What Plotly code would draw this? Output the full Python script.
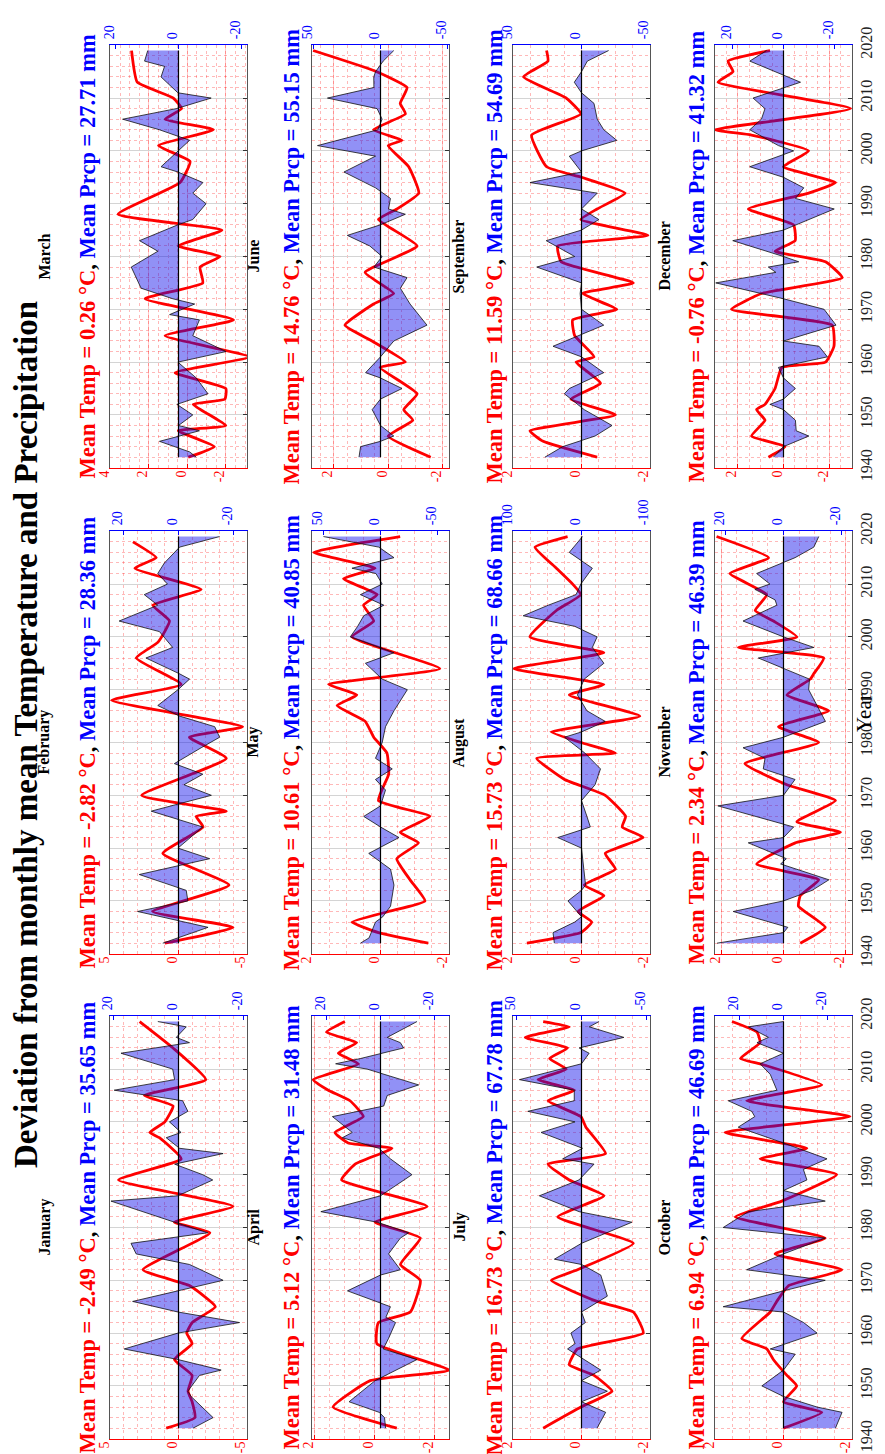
import math
import plotly.graph_objects as go

W, H = 885, 1454
FONT = "Liberation Serif"

months = ["January", "February", "March", "April", "May", "June",
          "July", "August", "September", "October", "November", "December"]
mean_temp = [-2.49, -2.82, 0.26, 5.12, 10.61, 14.76, 16.73, 15.73, 11.59, 6.94, 2.34, -0.76]
mean_prcp = [35.65, 28.36, 27.71, 31.48, 40.85, 55.15, 67.78, 68.66, 54.69, 46.69, 46.39, 41.32]

# ---------------- temperature deviation (deg C) ----------------
jan_t_years = [1942,1944,1947,1949,1952,1955,1958,1960,1962,1965,1969,1972,1979,1981,1984,1989,1993,1997,1998,2000,2003,2005,2008,2014,2019]
jan_t = [0.9,-1.2,-1.0,-0.7,-1.0,0.3,-1.0,-0.6,-1.0,-2.7,-0.8,2.6,-2.3,0.3,-4.0,4.4,-0.2,1.4,2.1,1.0,0.4,2.5,-2.0,0.4,2.85]
feb_t_years = [1942,1945,1948,1953,1959,1964,1966,1967,1970,1977,1981,1983,1988,1991,1996,1999,2003,2006,2009,2013,2015,2018]
feb_t = [1.0,-4.0,1.9,-3.7,1.15,-1.8,-1.3,-3.5,2.7,-3.5,-0.8,-4.7,4.9,-0.2,3.1,1.5,0.66,1.88,-1.66,3.2,1.63,3.34]
mar_t_years = [1942,1944,1947,1948,1952,1953,1955,1958,1961,1965,1968,1972,1975,1978,1980,1982,1985,1988,1994,1998,2001,2004,2006,2008,2010,2013,2019]
mar_t = [-0.05,-1.4,0.47,-2.0,-0.3,-1.95,-2.0,0.64,-3.2,1.16,-2.4,2.2,-0.8,-0.66,-1.7,0.47,-1.8,3.6,0.38,-0.14,1.5,-1.35,1.16,0.3,0.73,2.6,2.9]
apr_t_years = [1942,1946,1951,1953,1958,1962,1964,1970,1973,1978,1981,1984,1989,1992,1995,1996,1998,2001,2004,2006,2008,2011,2013,2015,2017,2019]
apr_t = [-0.74,1.37,0.14,-2.47,-0.08,-0.13,-1.19,-1.52,-0.86,-1.52,-0.02,-1.74,1.09,0.64,-0.58,0.87,1.31,0.37,0.81,1.53,2.03,0.53,1.2,0.59,1.59,0.98]
may_t_years = [1942,1944,1946,1948,1950,1954,1958,1961,1963,1966,1969,1974,1978,1981,1984,1987,1989,1991,1994,2000,2003,2006,2008,2011,2013,2016,2019]
may_t = [-1.41,0.06,0.84,-0.24,-1.31,-0.87,-0.48,-1.12,-0.58,-1.46,0.06,-0.24,-0.19,0.2,0.45,1.28,0.7,1.53,-1.75,0.84,0.2,0.5,0.1,1.09,0.16,1.97,-0.58]
jun_t_years = [1942,1946,1949,1951,1954,1959,1960,1964,1967,1971,1973,1977,1982,1987,1989,1992,1997,2001,2002,2004,2007,2009,2012,2015,2019]
jun_t = [-1.56,0.0,-0.9,-0.57,-1.06,0.3,-0.63,0.6,1.59,0.54,-0.2,0.85,-1.06,0.36,-0.32,-1.12,-0.75,0.0,-0.51,0.54,-0.63,-0.44,-0.69,0.42,2.76]
jul_t_years = [1942,1946,1949,1952,1954,1957,1960,1964,1966,1970,1972,1977,1982,1986,1989,1992,1994,1999,2001,2004,2006,2008,2010,2012,2014,2016,2018,2019]
jul_t = [1.13,0.02,-0.9,-0.37,0.36,0.12,-1.82,-1.53,-0.46,0.89,0.12,-1.53,0.7,-0.66,0.36,0.99,-0.71,-0.13,0.02,0.99,0.21,1.28,0.45,0.94,0.41,1.66,0.36,1.13]
aug_t_years = [1942,1944,1946,1948,1951,1953,1956,1959,1962,1964,1966,1970,1973,1977,1978,1980,1982,1985,1989,1991,1994,1997,2000,2005,2008,2010,2013,2017,2019]
aug_t = [1.61,0.02,-0.3,0.1,-0.66,-0.08,-1.0,-0.7,-1.82,-1.2,-1.3,-0.7,0.5,1.32,-1.0,0.02,0.89,-1.72,0.36,-0.66,2.0,-0.66,1.52,0.74,0.02,0.26,0.74,1.37,0.41]
sep_t_years = [1942,1945,1947,1950,1953,1956,1960,1961,1965,1968,1970,1973,1975,1979,1982,1984,1987,1989,1992,1995,1997,2003,2007,2010,2014,2017,2019]
sep_t = [-0.46,1.13,1.52,-1.0,0.31,-0.56,0.16,-0.37,0.2,0.26,-1.04,-0.03,-1.53,0.6,0.7,-1.96,0.02,-0.46,-1.29,0.0,1.03,1.47,0.02,0.45,1.71,0.99,1.03]
oct_t_years = [1942,1945,1947,1950,1952,1955,1957,1959,1964,1966,1969,1972,1975,1978,1982,1985,1990,1993,1995,1998,2001,2004,2007,2011,2012,2015,2017,2019]
oct_t = [0.0,-1.13,0.0,-0.39,-0.1,0.3,0.49,1.23,0.39,0.2,-0.15,-1.72,0.25,-1.23,1.42,0.05,-1.57,0.69,-0.69,1.72,-1.96,1.08,-1.13,0.69,1.27,0.69,0.78,1.52]
nov_t_years = [1942,1945,1949,1951,1954,1957,1961,1963,1965,1969,1972,1976,1980,1983,1986,1989,1992,1993,1996,1998,2000,2003,2005,2008,2012,2015,2019]
nov_t = [-0.54,-1.34,-0.48,-0.54,-1.13,0.86,-0.38,-1.83,-0.43,-1.67,-0.11,1.24,-1.13,0.16,-1.45,-0.11,-0.86,-0.97,-1.29,1.45,-0.43,0.32,0.91,0.54,1.72,0.48,2.15]
dec_t_years = [1942,1944,1946,1949,1951,1952,1955,1959,1960,1963,1967,1970,1973,1976,1979,1981,1983,1986,1989,1992,1994,1997,2000,2003,2004,2008,2013,2015,2017,2019]
dec_t = [0.66,-0.07,1.4,0.81,1.18,0.81,0.37,0.07,-1.84,-2.21,-2.13,2.28,0.96,-2.57,-1.84,0.37,-0.51,-0.44,1.54,-1.1,-2.28,0.0,-1.1,1.4,3.01,-2.94,2.87,2.21,2.43,0.59]

# ---------------- precipitation deviation (mm) ----------------
jan_p_years = [1942,1944,1948,1949,1952,1953,1955,1957,1960,1962,1964,1966,1968,1970,1973,1975,1977,1979,1981,1985,1986,1989,1990,1992,1994,1995,1997,1998,2000,2002,2004,2006,2008,2010,2013,2015,2016,2018,2019]
jan_p = [-4.5,-10.7,-3.9,-2.9,-6.5,-13.2,0.2,16.8,0.2,-18.9,0.2,14.2,0.2,-13.8,-3.4,13.1,14.7,-9.1,1.2,20.9,0.2,-10.6,-7.5,1.2,-13.8,-0.3,3.8,-0.8,2.8,-2.9,-1.3,19.9,1.2,1.8,17.8,-3.4,0.7,-2.4,6.4]
feb_p_years = [1942,1945,1948,1950,1952,1955,1958,1960,1964,1967,1970,1972,1974,1976,1979,1981,1983,1985,1987,1990,1992,1993,1996,1998,2001,2003,2006,2008,2010,2012,2014,2017,2019]
feb_p = [5.7,-10.7,14.8,-3.4,-2.8,14.2,-11.3,0.2,-8.8,9.9,-11.9,-2.0,-8.8,1.5,-8.2,-14.9,-13.1,-0.4,7.5,0.2,-4.0,-0.4,11.8,2.1,6.9,21.5,7.5,12.4,4.0,7.5,5.1,-0.4,-14.9]
mar_p_years = [1942,1943,1945,1947,1948,1950,1952,1954,1957,1960,1962,1965,1968,1969,1971,1972,1974,1978,1981,1983,1986,1987,1990,1992,1994,1996,1997,2000,2002,2004,2006,2008,2010,2011,2014,2016,2017,2019]
mar_p = [-5.6,-3.5,6.0,-6.6,0.0,-4.5,0.5,-9.3,-5.6,0.2,-15.0,-4.5,-6.6,2.8,-5.1,1.8,11.8,14.9,6.5,12.3,0.2,-4.5,-8.7,-4.5,-7.7,0.2,5.5,0.2,-3.5,6.0,17.6,0.7,-10.3,0.2,5.5,4.4,10.7,9.7]
apr_p_years = [1942,1944,1945,1947,1951,1955,1957,1959,1962,1963,1965,1968,1971,1972,1975,1978,1979,1981,1983,1986,1990,1993,1995,1997,1998,2001,2003,2005,2007,2010,2011,2012,2014,2015,2016,2019]
apr_p = [-1.9,-1.5,0.5,11.7,2.0,-13.6,-1.0,-3.0,-5.6,-2.0,-3.7,12.3,0.0,-7.4,-3.0,-7.4,-10.5,1.2,22.2,0.0,-11.7,-3.7,0.6,14.2,10.5,17.9,-1.2,-2.5,-14.2,5.0,16.7,7.4,-8.6,-7.4,-2.5,-13.6]
may_p_years = [1942,1943,1946,1947,1949,1953,1956,1959,1962,1964,1966,1968,1971,1973,1975,1977,1980,1983,1986,1990,1992,1995,1997,2000,2002,2004,2006,2008,2010,2012,2013,2015,2017,2019]
may_p = [17.6,10.0,4.4,-2.0,-8.8,-11.8,-8.8,10.3,-16.2,0.0,14.7,0.0,-4.4,4.4,-10.3,4.4,-1.5,-4.4,-11.8,-23.5,-1.5,13.2,-11.8,26.5,20.0,14.7,-2.9,17.6,-1.5,4.0,25.0,-11.8,1.5,50.0]
jun_p_years = [1942,1944,1945,1946,1948,1951,1953,1955,1957,1958,1961,1964,1967,1971,1974,1976,1978,1980,1982,1984,1986,1988,1989,1991,1993,1996,1999,2001,2004,2006,2008,2010,2012,2014,2015,2017,2019]
jun_p = [16.0,14.8,0.0,-9.9,0.0,6.2,0.0,-16.0,0.0,11.1,0.0,-9.9,-34.6,-22.0,-14.8,-19.8,4.9,-1.2,8.0,24.7,0.0,-18.5,-6.0,-7.4,3.7,27.2,3.7,46.9,2.0,-1.2,2.5,39.5,4.9,5.0,3.7,-2.0,-9.9]
jul_p_years = [1942,1945,1947,1949,1951,1953,1957,1958,1960,1962,1964,1967,1971,1973,1974,1977,1981,1983,1986,1989,1992,1993,1995,1998,2000,2002,2004,2006,2008,2011,2013,2014,2016,2018,2019]
jul_p = [-12.0,-18.7,0.0,-20.0,0.0,-14.9,10.8,5.0,8.2,-3.0,0.0,-20.0,-14.9,0.0,21.0,0.0,-39.0,1.8,32.6,2.0,-9.7,14.6,-0.8,31.3,5.0,41.5,5.6,5.6,48.0,0.0,-5.9,1.8,-32.8,-6.0,-13.6]
aug_p_years = [1942,1944,1946,1947,1950,1952,1953,1956,1960,1962,1964,1966,1969,1972,1975,1978,1981,1982,1984,1986,1989,1992,1995,1998,2000,2002,2004,2006,2008,2010,2013,2016,2019]
aug_p = [40.0,42.0,10.0,0.0,20.0,0.0,-6.0,-3.0,0.0,35.0,-13.0,-8.0,0.0,-20.0,-28.0,-5.0,25.0,0.0,-35.0,-8.0,6.0,-4.0,-33.0,-16.0,-23.0,10.0,86.0,49.0,8.0,1.0,-16.0,18.0,-1.5]
sep_p_years = [1942,1944,1946,1948,1951,1954,1955,1958,1961,1963,1967,1970,1973,1975,1978,1980,1983,1985,1987,1989,1992,1994,1996,1999,2000,2002,2004,2006,2009,2011,2013,2015,2017,2019]
sep_p = [27.0,13.8,-10.0,-22.5,-2.0,12.6,9.0,-16.4,0.0,21.0,-16.4,0.0,1.0,0.0,33.0,5.0,26.0,0.0,-12.8,0.0,-11.6,38.0,0.0,9.0,0.0,-26.0,-16.4,-11.6,-9.2,0.0,5.3,0.0,-4.3,-20.0]
oct_p_years = [1942,1945,1946,1948,1950,1953,1956,1957,1960,1962,1964,1965,1968,1970,1972,1975,1978,1980,1983,1985,1987,1989,1991,1993,1996,1999,2001,2002,2004,2006,2009,2011,2013,2015,2016,2018,2019]
oct_p = [-23.5,-26.5,-15.2,0.0,9.8,0.0,-5.3,6.0,-15.2,-9.1,0.0,27.3,0.0,-18.9,16.7,0.0,-18.9,27.3,15.9,-18.9,0.0,-10.6,-9.0,-19.7,0.0,20.5,13.0,14.4,25.0,3.0,6.0,10.6,0.0,12.0,6.8,15.9,0.0]
nov_p_years = [1942,1944,1945,1948,1950,1952,1954,1957,1958,1961,1962,1964,1968,1970,1973,1975,1977,1979,1981,1984,1987,1990,1992,1994,1996,1998,2000,2003,2006,2007,2009,2010,2012,2015,2017,2019]
nov_p = [23.0,0.0,-1.5,17.4,0.0,-9.9,-15.7,1.0,-1.0,12.2,0.0,-3.5,22.7,0.0,-4.0,7.0,6.4,14.0,0.0,-14.5,-11.6,-8.7,-9.0,0.0,8.7,-10.5,0.0,14.0,2.3,2.9,9.9,4.7,9.3,-4.0,-10.5,-12.2]
dec_p_years = [1942,1944,1946,1947,1949,1951,1952,1953,1955,1957,1959,1961,1963,1964,1967,1970,1972,1975,1977,1978,1979,1980,1983,1985,1989,1991,1993,1995,1997,2000,2001,2004,2006,2008,2010,2013,2017,2019]
dec_p = [4.0,0.0,-10.0,-5.0,-4.7,0.0,5.3,0.0,-4.7,0.0,2.0,-17.3,-14.0,0.0,-20.7,-16.0,0.0,26.7,3.0,6.0,-6.0,0.0,20.0,0.0,-20.0,-4.7,-8.0,0.0,13.3,-4.0,2.0,13.3,8.7,7.3,12.0,-6.7,13.3,6.7]

temp_years = [jan_t_years, feb_t_years, mar_t_years, apr_t_years, may_t_years, jun_t_years,
              jul_t_years, aug_t_years, sep_t_years, oct_t_years, nov_t_years, dec_t_years]
temp_vals = [jan_t, feb_t, mar_t, apr_t, may_t, jun_t, jul_t, aug_t, sep_t, oct_t, nov_t, dec_t]
prcp_years = [jan_p_years, feb_p_years, mar_p_years, apr_p_years, may_p_years, jun_p_years,
              jul_p_years, aug_p_years, sep_p_years, oct_p_years, nov_p_years, dec_p_years]
prcp_vals = [jan_p, feb_p, mar_p, apr_p, may_p, jun_p, jul_p, aug_p, sep_p, oct_p, nov_p, dec_p]

# ---------------- axis styling per panel ----------------
temp_range = [(5.02, -5.02), (5.02, -5.02), (4.02, -3.1), (2.07, -2.47), (2.02, -2.02), (2.8, -2.23),
              (2.02, -2.02), (2.02, -2.02), (2.02, -2.02), (2.02, -2.02), (2.2, -2.2), (3.0, -3.0)]
temp_dtick = [5, 5, 2, 2, 2, 2, 2, 2, 2, 2, 2, 2]
temp_minor = [1, 1, 0.5, 0.5, 0.5, 0.5, 0.5, 0.5, 0.5, 0.5, 0.5, 0.5]
prcp_lim = [21.2, 24.8, 21.6, 25.5, 60, 51, 53, 101, 50.5, 31, 23.7, 27]
prcp_dtick = [20, 20, 20, 20, 50, 50, 50, 100, 50, 20, 20, 20]

row_left = [102, 304, 505, 707]
col_top = [1008, 523, 37]
PW, PH = 137, 423
mean_x = [79, 283, 486, 688]
title_x = [36, 245, 451, 656]

RED = "#ff0000"
BLUE = "#0000ff"


def tick_list(a, b, step):
    lo, hi = min(a, b), max(a, b)
    k0, k1 = math.ceil(lo / step - 1e-9), math.floor(hi / step + 1e-9)
    vals = [k * step for k in range(k0, k1 + 1)]
    return vals, [f"{v:g}" for v in vals]


fig = go.Figure()
layout_axes = {}
annotations = []

for i in range(12):
    r, c = divmod(i, 3)
    left, top = row_left[r], col_top[c]
    dom_x = [left / W, (left + PW) / W]
    dom_y = [1 - (top + PH) / H, 1 - top / H]
    nt, npr, ny = 2 * i + 1, 2 * i + 2, i + 1
    xt_ref = "x" if nt == 1 else f"x{nt}"
    xp_ref = f"x{npr}"
    y_ref = "y" if ny == 1 else f"y{ny}"
    xt_key = "xaxis" if nt == 1 else f"xaxis{nt}"
    xp_key = f"xaxis{npr}"
    y_key = "yaxis" if ny == 1 else f"yaxis{ny}"

    fig.add_trace(go.Scatter(x=temp_vals[i], y=temp_years[i], xaxis=xt_ref, yaxis=y_ref,
                             mode="lines", line=dict(color=RED, width=2.8, shape="spline", smoothing=0.4),
                             showlegend=False, hoverinfo="skip"))
    fig.add_trace(go.Scatter(x=prcp_vals[i], y=prcp_years[i], xaxis=xp_ref, yaxis=y_ref,
                             mode="lines", fill="tozerox", fillcolor="rgba(10,10,235,0.45)",
                             line=dict(color="#111111", width=0.8),
                             showlegend=False, hoverinfo="skip"))
    fig.add_trace(go.Scatter(x=[0, 0], y=[prcp_years[i][0], prcp_years[i][-1]],
                             xaxis=xp_ref, yaxis=y_ref, mode="lines",
                             line=dict(color="black", width=1.2),
                             showlegend=False, hoverinfo="skip"))

    tv, tt = tick_list(temp_range[i][0], temp_range[i][1], temp_dtick[i])
    pv, pt = tick_list(-prcp_lim[i], prcp_lim[i], prcp_dtick[i])

    layout_axes[xt_key] = dict(
        domain=dom_x, anchor=y_ref, range=list(temp_range[i]), side="bottom",
        automargin=False,
        showline=True, linecolor=RED, linewidth=1, mirror=False,
        ticks="inside", ticklen=4, tickcolor=RED,
        tickmode="array", tickvals=tv, ticktext=tt,
        tickangle=-90, ticklabelshift=6, ticklabelstandoff=-4,
        tickfont=dict(family=FONT, size=14, color=RED),
        showgrid=True, gridcolor="rgba(255,0,0,0.22)", gridwidth=1, zeroline=False,
        minor=dict(tickmode="linear", tick0=0, dtick=temp_minor[i], showgrid=True,
                   gridcolor="rgba(255,0,0,0.28)", griddash="dot", gridwidth=1),
        fixedrange=True)
    layout_axes[xp_key] = dict(
        overlaying=xt_ref, anchor=y_ref, side="top", automargin=False,
        range=[prcp_lim[i], -prcp_lim[i]], showline=True, linecolor=BLUE, linewidth=1,
        ticks="inside", ticklen=4, tickcolor=BLUE,
        tickmode="array", tickvals=pv, ticktext=pt,
        tickangle=-90, ticklabelshift=6, ticklabelstandoff=2,
        tickfont=dict(family=FONT, size=14, color=BLUE),
        showgrid=False, zeroline=False, fixedrange=True)
    layout_axes[y_key] = dict(
        domain=dom_y, anchor=xt_ref, side="right", range=[1939.95, 2020.05],
        automargin=False,
        tick0=1940, dtick=10, showticklabels=(r == 3),
        ticks="inside", ticklen=4, tickcolor="#333333",
        tickangle=-90, tickfont=dict(family=FONT, size=16, color="#222222"),
        showline=True, linecolor="#555555", linewidth=1, mirror=True,
        showgrid=True, gridcolor="#d4d4d4", gridwidth=1, zeroline=False,
        minor=dict(tick0=1940, dtick=2, showgrid=True,
                   gridcolor="rgba(255,0,0,0.28)", griddash="dot", gridwidth=1),
        fixedrange=True)

    cy = 1 - (top + PH / 2) / H
    annotations.append(dict(
        x=title_x[r] / W, y=cy, xref="paper", yref="paper", showarrow=False,
        textangle=-90, xanchor="center", yanchor="middle",
        text=f"<b>{months[i]}</b>", font=dict(family=FONT, size=16, color="black")))
    annotations.append(dict(
        x=mean_x[r] / W, y=cy, xref="paper", yref="paper", showarrow=False,
        textangle=-90, xanchor="center", yanchor="middle",
        text=(f"<b><span style='color:{RED}'>Mean Temp = {mean_temp[i]:.2f} °C</span>, "
              f"<span style='color:{BLUE}'>Mean Prcp = {mean_prcp[i]:.2f} mm</span></b>"),
        font=dict(family=FONT, size=22.5, color="black")))

annotations.append(dict(
    x=18 / W, y=0.5, xref="paper", yref="paper", showarrow=False, textangle=-90,
    xanchor="center", yanchor="middle",
    text="<b>Deviation from monthly mean Temperature and Precipitation</b>",
    font=dict(family=FONT, size=33, color="black")))
annotations.append(dict(
    x=856 / W, y=1 - 705 / H, xref="paper", yref="paper", showarrow=False, textangle=-90,
    xanchor="center", yanchor="middle", text="Year",
    font=dict(family=FONT, size=21, color="black")))

fig.update_layout(
    width=W, height=H, margin=dict(l=0, r=0, t=0, b=0, autoexpand=False),
    paper_bgcolor="white", plot_bgcolor="white",
    showlegend=False, annotations=annotations, **layout_axes)

fig.write_html("out.html")
